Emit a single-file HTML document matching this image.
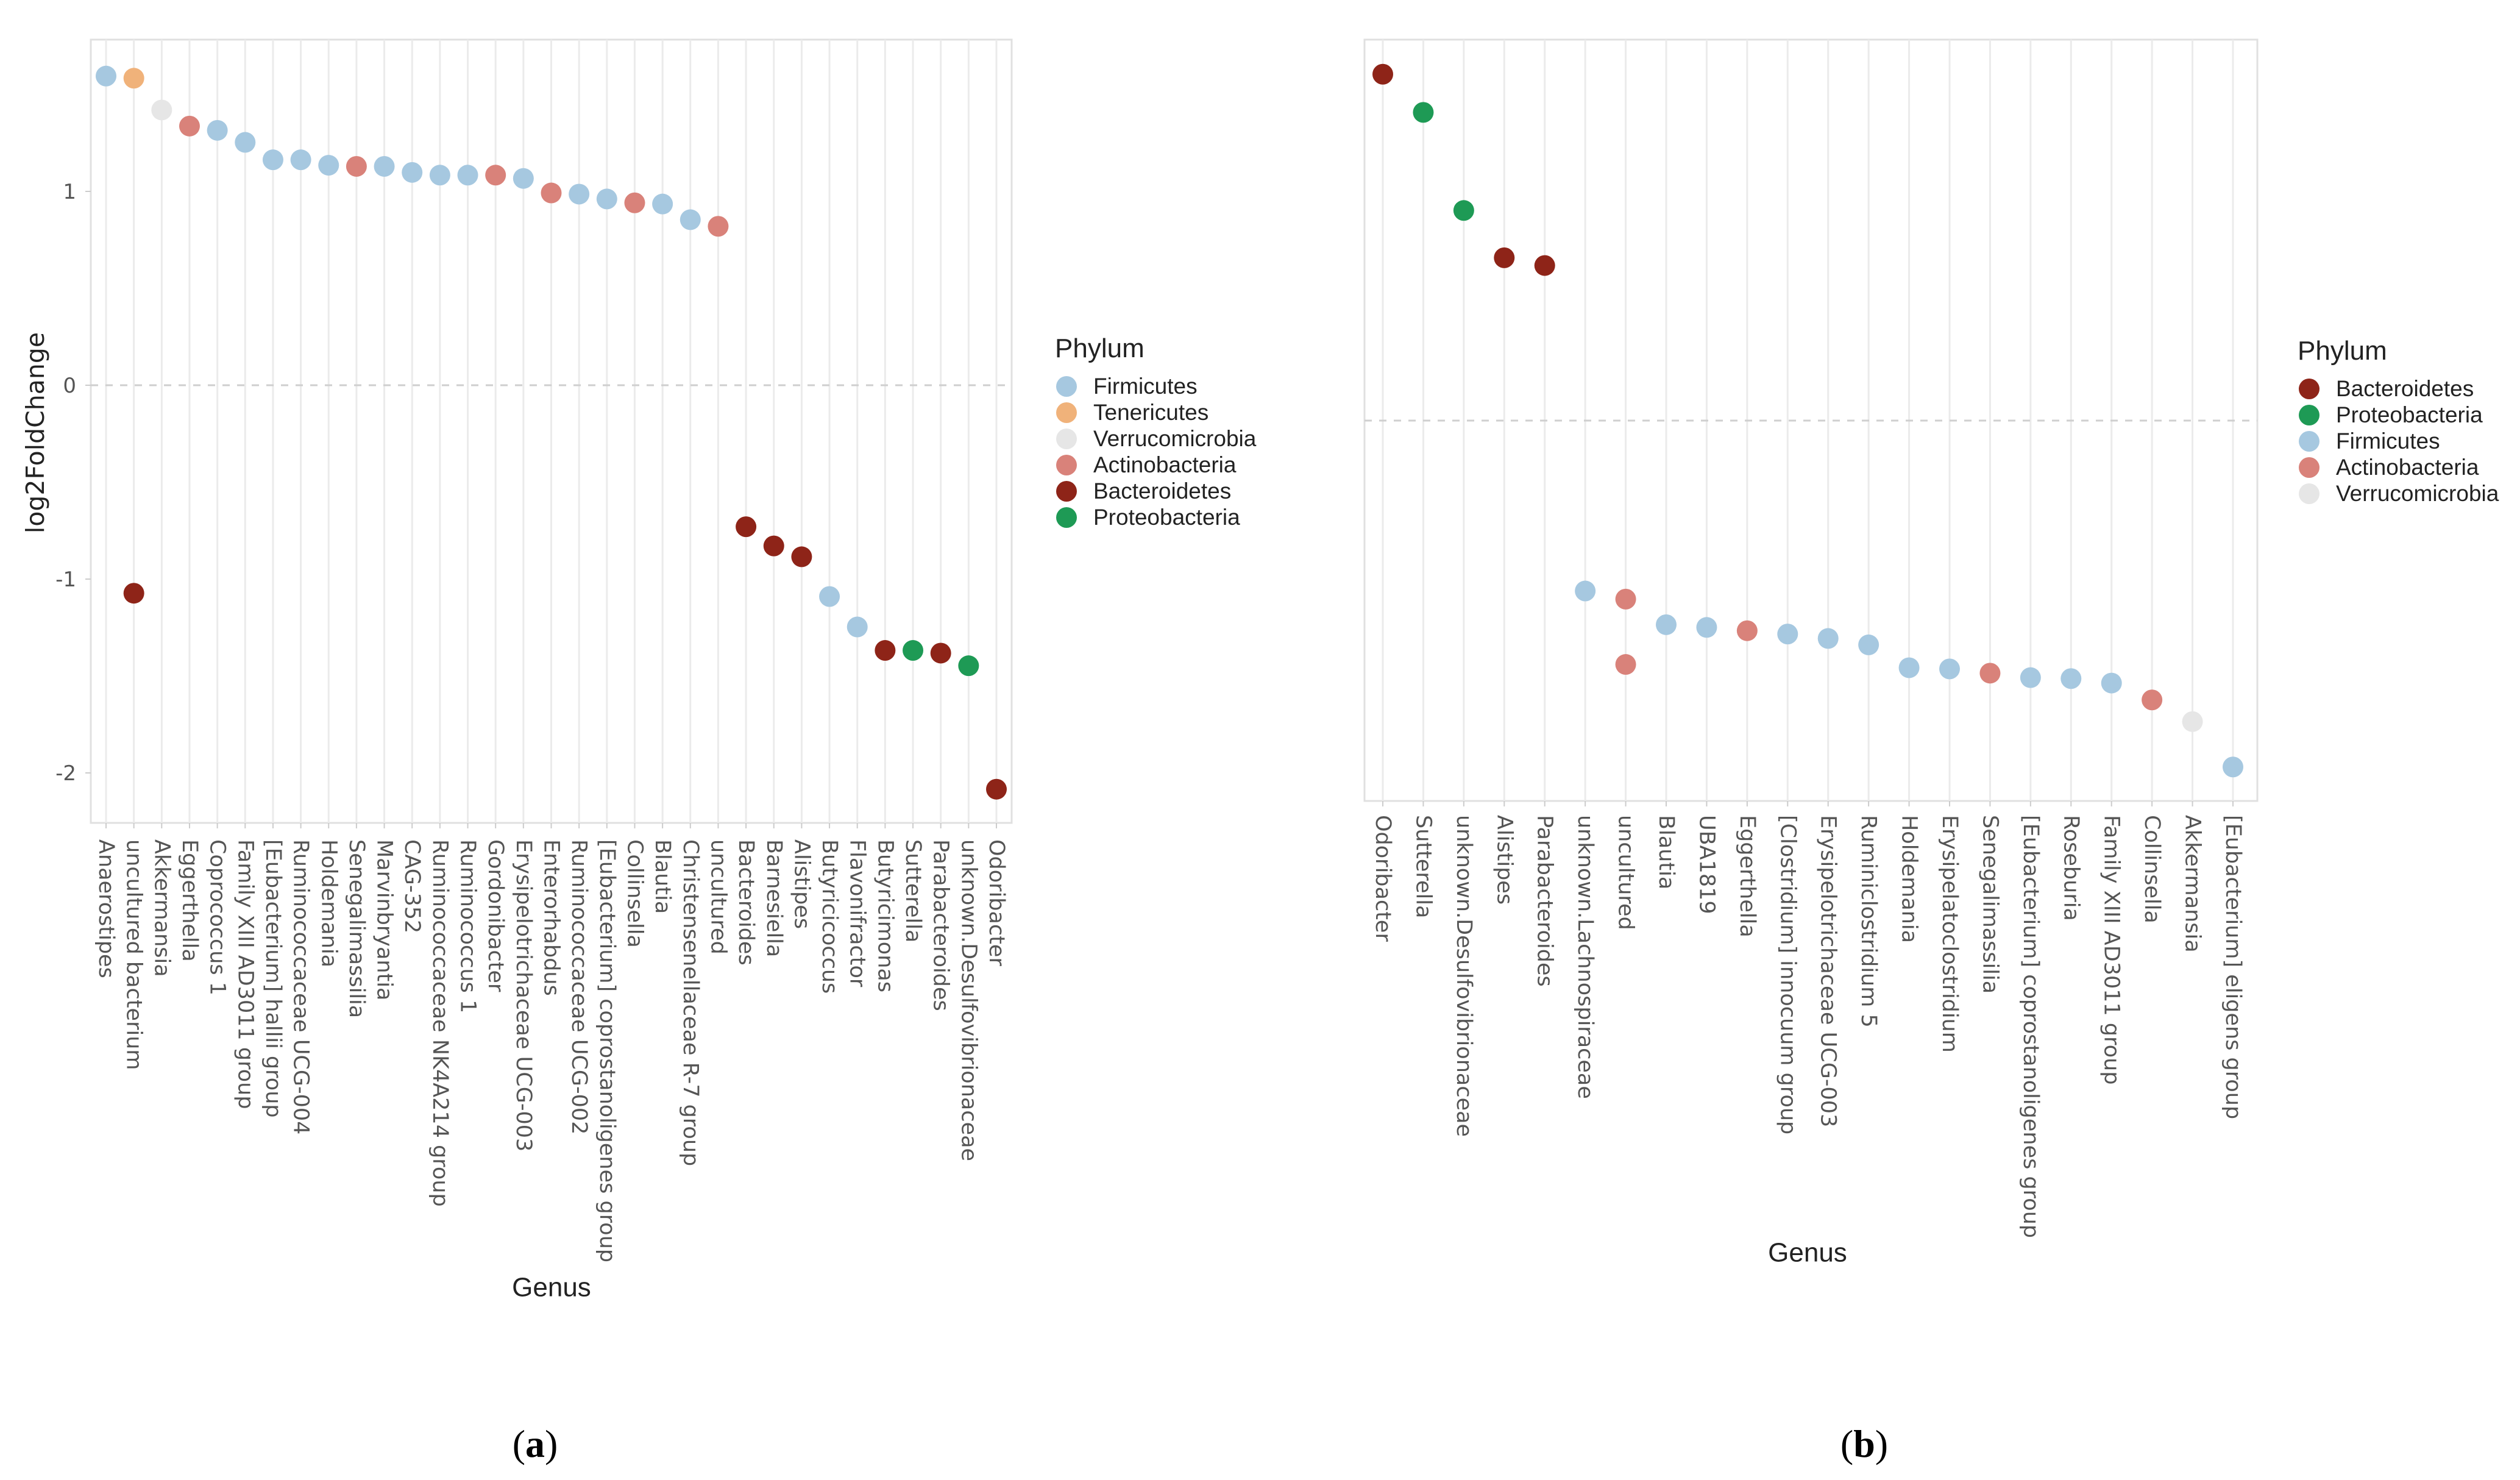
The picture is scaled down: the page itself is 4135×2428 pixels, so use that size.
<!DOCTYPE html>
<html><head><meta charset="utf-8"><style>
html,body{margin:0;padding:0;background:#fff;}
svg{display:block;}
</style></head><body>
<svg id="chart" width="4135" height="2428" viewBox="0 0 4135 2428" xmlns="http://www.w3.org/2000/svg">
<g id="pa"></g>
<g id="pb"></g>
<text x="878" y="2390" font-family="Liberation Serif, serif" font-size="64" text-anchor="middle">(<tspan font-weight="bold">a</tspan>)</text>
<text x="3059" y="2390" font-family="Liberation Serif, serif" font-size="64" text-anchor="middle">(<tspan font-weight="bold">b</tspan>)</text>
</svg>
<script>
const colors = {Firmicutes:'#a6c8e0',Tenericutes:'#f0b27a',Verrucomicrobia:'#e6e6e6',Actinobacteria:'#d9827a',Bacteroidetes:'#8e2418',Proteobacteria:'#1e9a55'};

const catsA = ['Anaerostipes','uncultured bacterium','Akkermansia','Eggerthella','Coprococcus 1','Family XIII AD3011 group','[Eubacterium] hallii group','Ruminococcaceae UCG-004','Holdemania','Senegalimassilia','Marvinbryantia','CAG-352','Ruminococcaceae NK4A214 group','Ruminococcus 1','Gordonibacter','Erysipelotrichaceae UCG-003','Enterorhabdus','Ruminococcaceae UCG-002','[Eubacterium] coprostanoligenes group','Collinsella','Blautia','Christensenellaceae R-7 group','uncultured','Bacteroides','Barnesiella','Alistipes','Butyricicoccus','Flavonifractor','Butyricimonas','Sutterella','Parabacteroides','unknown.Desulfovibrionaceae','Odoribacter'];
const ptCatA = [0,1,1,2,3,4,5,6,7,8,9,10,11,12,13,14,15,16,17,18,19,20,21,22,23,24,25,26,27,28,29,30,31,32];
const valA = [1.595,1.584,-1.073,1.42,1.337,1.315,1.253,1.163,1.163,1.135,1.129,1.129,1.098,1.084,1.084,1.084,1.067,0.992,0.986,0.961,0.941,0.935,0.854,0.82,-0.73,-0.829,-0.885,-1.09,-1.247,-1.368,-1.368,-1.382,-1.447,-2.084];
const phyA = ['Firmicutes','Tenericutes','Bacteroidetes','Verrucomicrobia','Actinobacteria','Firmicutes','Firmicutes','Firmicutes','Firmicutes','Firmicutes','Actinobacteria','Firmicutes','Firmicutes','Firmicutes','Firmicutes','Actinobacteria','Firmicutes','Actinobacteria','Firmicutes','Firmicutes','Actinobacteria','Firmicutes','Firmicutes','Actinobacteria','Bacteroidetes','Bacteroidetes','Bacteroidetes','Firmicutes','Firmicutes','Bacteroidetes','Proteobacteria','Bacteroidetes','Proteobacteria','Bacteroidetes'];
const ticksA = [1,0,-1,-2];
const legendA = ['Firmicutes','Tenericutes','Verrucomicrobia','Actinobacteria','Bacteroidetes','Proteobacteria'];

const catsB = ['Odoribacter','Sutterella','unknown.Desulfovibrionaceae','Alistipes','Parabacteroides','unknown.Lachnospiraceae','uncultured','Blautia','UBA1819','Eggerthella','[Clostridium] innocuum group','Erysipelotrichaceae UCG-003','Ruminiclostridium 5','Holdemania','Erysipelatoclostridium','Senegalimassilia','[Eubacterium] coprostanoligenes group','Roseburia','Family XIII AD3011 group','Collinsella','Akkermansia','[Eubacterium] eligens group'];
const ptCatB = [0,1,2,3,4,5,6,6,7,8,9,10,11,12,13,14,15,16,17,18,19,20,21];
const valB = [1.787,1.59,1.084,0.84,0.80,-0.879,-0.921,-1.258,-1.053,-1.067,-1.084,-1.101,-1.124,-1.157,-1.275,-1.281,-1.303,-1.326,-1.331,-1.354,-1.441,-1.553,-1.787];
const phyB = ['Bacteroidetes','Proteobacteria','Proteobacteria','Bacteroidetes','Bacteroidetes','Firmicutes','Actinobacteria','Actinobacteria','Firmicutes','Firmicutes','Actinobacteria','Firmicutes','Firmicutes','Firmicutes','Firmicutes','Firmicutes','Actinobacteria','Firmicutes','Firmicutes','Firmicutes','Actinobacteria','Verrucomicrobia','Firmicutes'];
const legendB = ['Bacteroidetes','Proteobacteria','Firmicutes','Actinobacteria','Verrucomicrobia'];

const NS='http://www.w3.org/2000/svg';
function mk(parent,tag,attrs,txt){const e=document.createElementNS(NS,tag);for(const k in attrs)e.setAttribute(k,attrs[k]);if(txt!==undefined)e.textContent=txt;parent.appendChild(e);return e;}
const FONT='DejaVu Sans, Liberation Sans, sans-serif';

function panel(g,cfg){
  const {left,right,top,bottom,x0,x1,zeroY,unit,cats,ptCat,vals,phy,ticks,legend,legX,legY,labelY,genusX,genusY,showY}=cfg;
  const n=cats.length;
  const xs=i=>x0+(x1-x0)*i/(n-1);
  const ys=v=>zeroY-unit*v;
  const bg=mk(g,'rect',{x:left,y:top,width:right-left,height:bottom-top,fill:'#fff',stroke:'#e0e0e0','stroke-width':3});
  
  
  cats.forEach((c,i)=>{
    const l=mk(g,'line',{x1:xs(i),x2:xs(i),y1:top,y2:bottom,stroke:'#ebebeb','stroke-width':3});
    
    
    const t=mk(g,'line',{x1:xs(i),x2:xs(i),y1:bottom,y2:bottom+9,stroke:'#ccc','stroke-width':2});
    
    
    const lab=mk(g,'text',{x:xs(i),y:labelY,transform:`rotate(90 ${xs(i)} ${labelY})`,'font-family':FONT,'font-size':35,fill:'#555','dominant-baseline':'central'},c);
    
    
  });
  const z=mk(g,'line',{x1:left,x2:right,y1:zeroY,y2:zeroY,stroke:'#cfcfcf','stroke-width':3,'stroke-dasharray':'12 12'});
  
  
  if(showY){
    ticks.forEach(v=>{
      const t=mk(g,'text',{x:125,y:ys(v)+12,'text-anchor':'end','font-family':FONT,'font-size':34,fill:'#555'},String(v));
      
      
      const tk=mk(g,'line',{x1:left-9,x2:left,y1:ys(v),y2:ys(v),stroke:'#ccc','stroke-width':2});
      
      
    });
    const yt=mk(g,'text',{x:58,y:710,transform:'rotate(-90 58 710)','text-anchor':'middle','dominant-baseline':'central','font-family':FONT,'font-size':41,fill:'#222'},'log2FoldChange');
    
    
  }
  vals.forEach((v,i)=>{
    const c=mk(g,'circle',{cx:xs(ptCat[i]),cy:ys(v),r:17,fill:colors[phy[i]]});
    
    
  });
  const gt=mk(g,'text',{x:genusX,y:genusY,'text-anchor':'middle','dominant-baseline':'central','font-family':'Liberation Sans, sans-serif','font-size':44,fill:'#222'},'Genus');
  
  
  const lt=mk(g,'text',{x:legX-19,y:legY-48,'font-family':'Liberation Sans, sans-serif','font-size':44,fill:'#222'},'Phylum');
  
  
  legend.forEach((p,i)=>{
    const yy=legY+i*43;
    const d=mk(g,'circle',{cx:legX,cy:yy,r:17,fill:colors[p]});
    
    
    const t=mk(g,'text',{x:legX+44,y:yy+12,'font-family':'Liberation Sans, sans-serif','font-size':37,fill:'#222'},p);
    
    
  });
}
panel(document.getElementById('pa'),{left:149,right:1660,top:65,bottom:1350,x0:174,x1:1635,zeroY:632,unit:318,cats:catsA,ptCat:ptCatA,vals:valA,phy:phyA,ticks:ticksA,legend:legendA,legX:1750,legY:634,labelY:1377,genusX:905,genusY:2112,showY:true});
panel(document.getElementById('pb'),{left:2239,right:3704,top:65,bottom:1314,x0:2269,x1:3664,zeroY:690,unit:318,cats:catsB,ptCat:ptCatB,vals:valB,phy:phyB,ticks:[],legend:legendB,legX:3789,legY:638,labelY:1337,genusX:2966,genusY:2055,showY:false});
</script>
</body></html>
